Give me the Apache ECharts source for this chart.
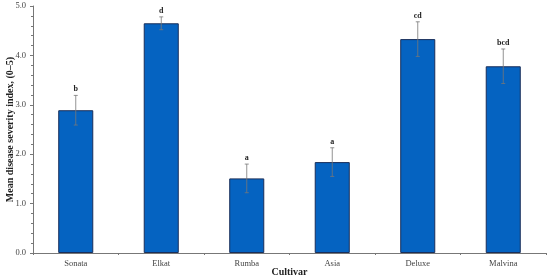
<!DOCTYPE html>
<html>
<head>
<meta charset="utf-8">
<script src="https://cdn.jsdelivr.net/npm/echarts@6/dist/echarts.min.js"></script>
<style>
html,body{margin:0;padding:0;background:#fff;}
#main{width:550px;height:279px;}
</style>
</head>
<body>
<div id="main"></div>
<script>
var cultivars = ['Sonata', 'Elkat', 'Rumba', 'Asia', 'Deluxe', 'Malvina'];
var severity = [2.89, 4.65, 1.51, 1.84, 4.33, 3.78];
var stdErr = [0.30, 0.13, 0.29, 0.29, 0.35, 0.35];
var letters = ['b', 'd', 'a', 'a', 'cd', 'bcd'];

var myChart = echarts.init(document.getElementById('main'));

//误差线 + 显著性字母
var errData = cultivars.map(function(c, i) {
	return [i, severity[i] - stdErr[i], severity[i] + stdErr[i], letters[i]];
});

var option = {
	animation: false,
	grid: {
		left: 33,
		right: 4,
		top: 6,
		bottom: 26,
		outerBoundsMode: 'none'
	},
	xAxis: {
		type: 'category',
		data: cultivars,
		name: 'Cultivar',
		nameLocation: 'middle',
		nameGap: 14,
		nameMoveOverlap: false,
		nameTextStyle: {
			fontFamily: 'Liberation Serif',
			fontWeight: 'bold',
			fontSize: 10,
			color: '#222'
		},
		axisLine: {
			lineStyle: { color: '#777', width: 1 }
		},
		axisTick: {
			show: true,
			length: 2,
			lineStyle: { color: '#777' }
		},
		axisLabel: {
			fontFamily: 'Liberation Serif',
			fontSize: 8.5,
			color: '#444',
			margin: 6
		}
	},
	yAxis: {
		type: 'value',
		min: 0,
		max: 5,
		interval: 1,
		name: 'Mean disease severity index, (0\u20135)',
		nameLocation: 'middle',
		nameGap: 18,
		nameMoveOverlap: false,
		nameTextStyle: {
			fontFamily: 'Liberation Serif',
			fontWeight: 'bold',
			fontSize: 10,
			color: '#222'
		},
		splitLine: { show: false },
		axisLine: {
			show: true,
			lineStyle: { color: '#777', width: 1 }
		},
		axisTick: {
			show: true,
			length: 3,
			lineStyle: { color: '#777' }
		},
		minorTick: {
			show: true,
			splitNumber: 5,
			length: 2,
			lineStyle: { color: '#777' }
		},
		axisLabel: {
			fontFamily: 'Liberation Serif',
			fontSize: 8.5,
			color: '#444',
			margin: 7,
			formatter: function(v) { return v.toFixed(1); }
		}
	},
	series: [{
		type: 'bar',
		data: severity,
		barWidth: '41%',
		itemStyle: {
			color: '#0563C1',
			borderColor: '#1a2f5a',
			borderWidth: 1
		}
	}, {
		type: 'custom',
		data: errData,
		z: 10,
		renderItem: function(params, api) {
			var x = api.value(0);
			var lo = api.coord([x, api.value(1)]);
			var hi = api.coord([x, api.value(2)]);
			var cap = 2;
			var st = { stroke: '#777', lineWidth: 0.8 };
			return {
				type: 'group',
				children: [{
					type: 'line',
					shape: { x1: hi[0], y1: hi[1], x2: lo[0], y2: lo[1] },
					style: st
				}, {
					type: 'line',
					shape: { x1: hi[0] - cap, y1: hi[1], x2: hi[0] + cap, y2: hi[1] },
					style: st
				}, {
					type: 'line',
					shape: { x1: lo[0] - cap, y1: lo[1], x2: lo[0] + cap, y2: lo[1] },
					style: st
				}, {
					type: 'text',
					x: hi[0],
					y: hi[1] - 2,
					style: {
						text: api.value(3),
						fill: '#222',
						font: 'bold 8px "Liberation Serif"',
						align: 'center',
						verticalAlign: 'bottom'
					}
				}]
			};
		}
	}]
};
myChart.setOption(option);
</script>
</body>
</html>
